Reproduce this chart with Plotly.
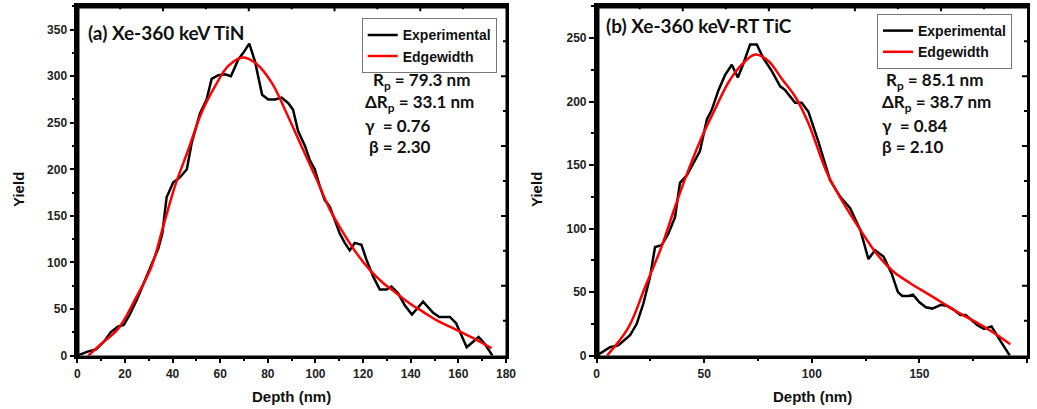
import plotly.graph_objects as go

# ---- (a) Xe-360 keV TiN ----
tin_depth = [0, 4, 8, 11.5, 14, 17, 19.5, 22, 25, 28.4, 32, 34, 35.7, 37.5, 40.3, 43, 46, 48,
             51.5, 54.3, 56.4, 59.2, 62, 64.5, 67.6, 69.7, 72.2, 74.6, 77.6, 80.2, 83, 85.8,
             88.6, 90.6, 92.7, 95.6, 97.6, 99.7, 101.8, 103.9, 106, 108.1, 110.2, 112.3, 114.4,
             116.5, 119.3, 121.4, 124.2, 127, 129.8, 131.9, 134.7, 137.5, 140.5, 145.2, 149.4,
             152, 156.4, 159, 163.5, 168.5, 171, 174.3]
tin_yield = [0, 4, 7, 16, 25, 31, 33, 44, 60, 81, 103, 115, 131, 170, 186, 191, 200, 228,
             260, 275, 297, 301, 302, 300, 318, 325, 335, 316, 280, 275, 275, 277,
             271, 264, 241, 225, 210, 200, 182, 167, 160, 146, 131, 121, 113,
             121, 119, 103, 85, 71, 71, 74, 67, 54, 44, 58, 46,
             41.5, 41.5, 35, 9, 20, 13, 0]
tin_fit_depth = [4.6, 10.2, 17.2, 24.2, 31.2, 36.1, 41, 46.6, 52.2, 57.8, 63.4, 69.7, 75.3,
                 81.6, 87.2, 94.8, 100.5, 106, 111.6, 117.2, 122.8, 128.4, 134, 139.6, 145.2,
                 150.8, 156.4, 162, 167.6, 173.9]
tin_fit_yield = [0, 13, 29, 60, 96, 139, 182, 221, 261, 289, 311, 320, 313,
                 293, 264, 221, 189, 157, 132, 110, 92, 78, 67, 56, 47,
                 38, 31, 24, 17, 8]

# ---- (b) Xe-360 keV-RT TiC ----
tic_depth = [0, 6.2, 10, 13.2, 15.5, 18.6, 21.7, 24.8, 27.1, 30.2, 33.3, 36.4, 38.7, 41.9,
             44.9, 48, 51.2, 53.5, 56.6, 59.7, 62.8, 65.6, 68.2, 71.3, 74.4, 77.5, 81.4, 85.3,
             87.6, 92.2, 95.3, 98.4, 103.1, 108.5, 113.2, 117.8, 122.5, 126.3, 129.4, 133.3,
             137.2, 140, 142, 145, 147, 150, 153, 156, 160, 163, 166, 169, 171.5, 174, 177,
             180, 183.5, 187.5, 192]
tic_yield = [0, 6.6, 8, 13, 16, 25, 41, 62, 85.5, 87, 96, 109, 136, 142,
             151, 161, 186, 193.5, 209, 221, 229, 219, 230, 245, 245, 234, 224, 212,
             209, 199, 199, 192, 168, 138, 125, 116, 99, 76, 83, 78,
             64, 50, 47, 47, 48, 42, 38, 37, 40, 39, 36, 32, 32, 28, 24,
             21, 23, 12, 0]
tic_fit_depth = [4.8, 14.7, 22.5, 30.2, 36.4, 42.6, 48.8, 55, 61.2, 67.4, 73.6, 79.8, 86,
                 92.2, 98.4, 107, 114.7, 122.5, 130.2, 138, 145.7, 153.5, 161.2, 169, 176.7,
                 184.5, 192.2]
tic_fit_yield = [0, 22, 54, 86, 117, 146, 172, 194, 215, 229, 237, 232, 218,
                 204, 183, 144, 120, 99, 80, 66, 57, 49, 41, 33, 26,
                 18, 9]

W, H = 1037, 409
TICK_FONT = dict(family="Liberation Sans", size=12, color="#222", weight="bold")
TITLE_FONT = dict(family="Liberation Sans", size=15, color="#111", weight="bold")
LABEL_FONT = dict(family="Lato", size=17, color="#111", weight="bold")
LEGEND_FONT = dict(family="Liberation Sans", size=14, color="#111", weight="bold")


def px_x(p):
    return p / W


def px_y(p):
    return 1 - p / H


fig = go.Figure()

fig.add_trace(go.Scatter(x=tin_depth, y=tin_yield, mode="lines", name="Experimental",
                         line=dict(color="black", width=2.5), xaxis="x", yaxis="y",
                         legend="legend"))
fig.add_trace(go.Scatter(x=tin_fit_depth, y=tin_fit_yield, mode="lines", name="Edgewidth",
                         line=dict(color="#ff0000", width=2.5, shape="spline", smoothing=1.0),
                         xaxis="x", yaxis="y", legend="legend"))
fig.add_trace(go.Scatter(x=tic_depth, y=tic_yield, mode="lines", name="Experimental",
                         line=dict(color="black", width=2.5), xaxis="x2", yaxis="y2",
                         legend="legend2"))
fig.add_trace(go.Scatter(x=tic_fit_depth, y=tic_fit_yield, mode="lines", name="Edgewidth",
                         line=dict(color="#ff0000", width=2.5, shape="spline", smoothing=1.0),
                         xaxis="x2", yaxis="y2", legend="legend2"))


def main_axis(domain, rng, dtick, minor, **kw):
    return dict(domain=domain, range=rng, tick0=0, dtick=dtick, ticks="outside", ticklen=5,
                tickwidth=2, tickcolor="black",
                minor=dict(dtick=minor, tick0=0, ticks="outside", ticklen=3, tickwidth=2,
                           tickcolor="black"),
                showline=True, linewidth=2.5, linecolor="black", mirror=True,
                showgrid=False, zeroline=False, tickfont=TICK_FONT, automargin=False, **kw)


xdom_a = [px_x(77.3), px_x(506)]
xdom_b = [px_x(596.7), px_x(1027)]
ydom = [px_y(355.6), px_y(6.3)]
fig.update_layout(
    width=W, height=H, margin=dict(l=0, r=0, t=0, b=0, autoexpand=False),
    paper_bgcolor="white", plot_bgcolor="white",
    xaxis=main_axis(xdom_a, [0, 180], 20, 10, anchor="y"),
    yaxis=main_axis(ydom, [0, 375], 50, 25, anchor="x"),
    xaxis2=main_axis(xdom_b, [0, 200], 50, 25, anchor="y2"),
    yaxis2=main_axis(ydom, [0, 275], 50, 25, anchor="x2"),
    legend=dict(x=px_x(496.7), y=px_y(18.3), xanchor="right", yanchor="top",
                bgcolor="white", bordercolor="#777", borderwidth=1, font=LEGEND_FONT,
                tracegroupgap=0, itemwidth=30),
    legend2=dict(x=px_x(1012), y=px_y(14), xanchor="right", yanchor="top",
                 bgcolor="white", bordercolor="#777", borderwidth=1, font=LEGEND_FONT,
                 tracegroupgap=0, itemwidth=30),
)

# closed frame round each panel plus inward ticks on the top and right edges
# (x axis, y axis, x domain, x span, x major, x minor, y span, y major, y minor)
frames = [("x", "y", xdom_a, 180, 36, 18, 375, 75, 37.5),
          ("x2", "y2", xdom_b, 200, 40, 20, 275, 55, 27.5)]
top, bottom = ydom[1], ydom[0]
plot_h = (top - bottom) * H
for xa, ya, xd, xs, xmaj, xmin, ys, ymaj, ymin in frames:
    plot_w = (xd[1] - xd[0]) * W
    fig.add_annotation(text=" ", x=xd[0], y=top, xref="paper", yref="paper",
                       xanchor="left", yanchor="top", showarrow=False,
                       width=plot_w - 2.5, height=plot_h - 2.5, borderpad=0,
                       bordercolor="black", borderwidth=2.5, font=dict(size=1))
    tick = dict(text="", showarrow=True, arrowhead=0, arrowwidth=2, arrowcolor="black",
                font=dict(size=1), width=1, height=1, borderpad=0)
    for i in range(1, int(round(xs / xmin))):
        v = i * xmin
        ln = 6 if abs(v / xmaj - round(v / xmaj)) < 1e-9 else 4
        fig.add_annotation(x=v, y=top, xref=xa, yref="paper", ax=0, ay=ln, **tick)
    for i in range(1, int(round(ys / ymin))):
        v = i * ymin
        ln = 6 if abs(v / ymaj - round(v / ymaj)) < 1e-9 else 4
        fig.add_annotation(x=xd[1], y=v, xref="paper", yref=ya, ax=-ln, ay=0, **tick)

# axis titles
for xc in (291.7, 812):
    fig.add_annotation(text="Depth (nm)", x=px_x(xc), y=px_y(396.5), xref="paper",
                       yref="paper", xanchor="center", yanchor="middle", showarrow=False,
                       font=TITLE_FONT)
for xc in (18, 536):
    fig.add_annotation(text="Yield", x=px_x(xc), y=px_y(190), xref="paper", yref="paper",
                       xanchor="center", yanchor="middle", showarrow=False, textangle=-90,
                       font=TITLE_FONT)

# panel headings
fig.add_annotation(text="(a) Xe-360 keV TiN", x=px_x(86), y=px_y(33), xref="paper",
                   yref="paper", xanchor="left", yanchor="middle", showarrow=False,
                   font=dict(family="Lato", size=19, color="#111", weight="bold"))
fig.add_annotation(text="(b) Xe-360 keV-RT TiC", x=px_x(604), y=px_y(25), xref="paper",
                   yref="paper", xanchor="left", yanchor="middle", showarrow=False,
                   font=dict(family="Lato", size=19, color="#111", weight="bold"))

# fit parameters
params_a = [("R<sub>p</sub> = 79.3 nm", 371), ("ΔR<sub>p</sub> = 33.1 nm", 363),
            ("γ  = 0.76", 363), ("β = 2.30", 367)]
params_b = [("R<sub>p</sub> = 85.1 nm", 884), ("ΔR<sub>p</sub> = 38.7 nm", 880),
            ("γ  = 0.84", 880), ("β = 2.10", 880)]
rows = [81, 103.3, 126, 146.7]
for (txt, xpx), ypx in zip(params_a, rows):
    fig.add_annotation(text=txt, x=px_x(xpx), y=px_y(ypx), xref="paper", yref="paper",
                       xanchor="left", yanchor="middle", showarrow=False, font=LABEL_FONT)
for (txt, xpx), ypx in zip(params_b, rows):
    fig.add_annotation(text=txt, x=px_x(xpx), y=px_y(ypx), xref="paper", yref="paper",
                       xanchor="left", yanchor="middle", showarrow=False, font=LABEL_FONT)

fig.write_html("out.html")
